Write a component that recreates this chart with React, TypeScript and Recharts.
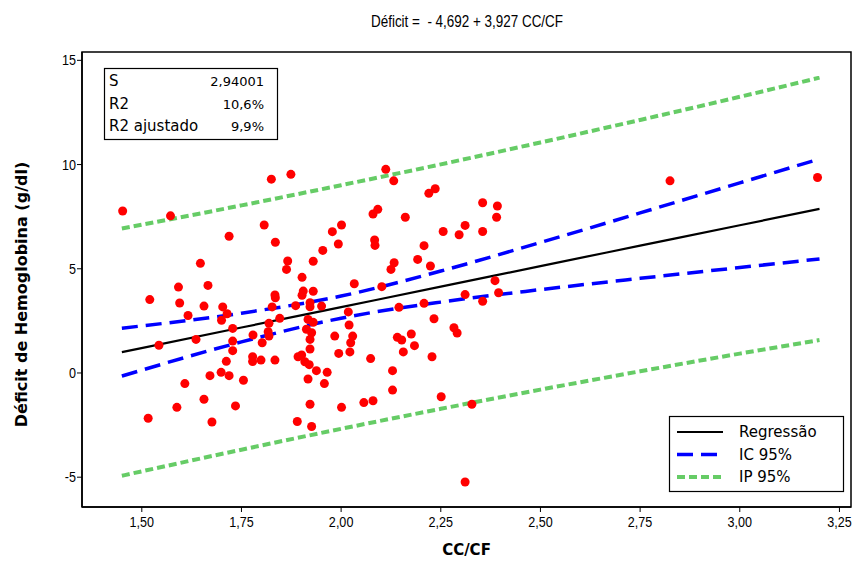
import { ComposedChart, Line, Scatter, XAxis, YAxis, ReferenceArea } from "recharts";

// ---- data ----
const TITLE = "Déficit =  - 4,692 + 3,927 CC/CF";
const X_LABEL = "CC/CF";
const Y_LABEL = "Déficit de Hemoglobina (g/dl)";

const X_TICKS = [1.5, 1.75, 2.0, 2.25, 2.5, 2.75, 3.0, 3.25];
const Y_TICKS = [-5, 0, 5, 10, 15];
const X_DOMAIN: [number, number] = [1.35, 3.279];
const Y_DOMAIN: [number, number] = [-6.43, 15.4];

const STAT_NAMES = ["S", "R2", "R2 ajustado"];
const STAT_VALUES = ["2,94001", "10,6%", "9,9%"];

const SERIES_NAMES = ["Regressão", "IC 95%", "IP 95%"];

// fitted line and bands
const CURVE_X = [1.45, 1.75, 2.0, 2.25, 2.5, 2.75, 3.0, 3.2];
const FIT = [1.0, 2.18, 3.16, 4.14, 5.13, 6.11, 7.09, 7.87];
const CI_LO = [-0.15, 1.49, 2.63, 3.4, 4.0, 4.54, 5.06, 5.47];
const CI_HI = [2.15, 2.87, 3.69, 4.89, 6.26, 7.68, 9.12, 10.27];
const PI_LO = [-4.93, -3.68, -2.68, -1.72, -0.8, 0.08, 0.93, 1.58];
const PI_HI = [6.93, 8.04, 9.01, 10.01, 11.06, 12.14, 13.25, 14.17];

// observations
const CC_CF = [
  1.452, 1.572, 1.719, 1.647, 1.592, 1.666, 1.52, 1.595, 1.656, 1.703, 1.714, 1.616, 1.7, 1.728,
  1.779, 1.636, 1.728, 1.543, 1.728, 1.778, 1.778, 1.799, 1.712, 1.699, 1.719, 1.671, 1.755,
  1.608, 1.656, 1.588, 1.735, 1.516, 1.676,
  1.825, 1.874, 1.807, 1.978, 2.001, 1.835, 1.993, 1.954, 1.866, 1.93, 1.863, 1.902, 2.033,
  1.905, 1.902, 1.93, 1.834, 1.835, 1.827, 1.886, 1.922, 1.922, 1.951, 1.846, 1.917, 2.018,
  1.93, 1.819, 2.02, 1.817, 1.819, 1.913, 1.926, 1.984, 2.029, 2.024, 1.802, 1.922, 1.922,
  1.834, 1.892, 1.901, 1.909, 1.92, 1.994, 2.022, 1.938, 1.965, 1.917, 1.958, 1.922, 2.001,
  1.89, 1.926,
  2.112, 2.132, 2.22, 2.236, 2.08, 2.092, 2.161, 2.355, 2.392, 2.39, 2.256, 2.296, 2.311, 2.355,
  2.084, 2.085, 2.208, 2.133, 2.125, 2.192, 2.224, 2.102, 2.386, 2.395, 2.311, 2.355, 2.145,
  2.208, 2.233, 2.283, 2.291, 2.141, 2.152, 2.176, 2.184, 2.156, 2.074, 2.228, 2.129, 2.129,
  2.251, 2.057, 2.08, 2.328, 2.311, 2.825, 3.195,
];
const DEFICIT = [
  7.77, 7.54, 6.56, 5.26, 4.12, 4.2, 3.52, 3.36, 3.21, 3.17, 2.84, 2.76, 2.53, 2.14,
  1.82, 1.61, 1.53, 1.33, 1.07, 0.78, 0.55, 0.62, 0.56, 0.03, -0.13, -0.13, -0.35,
  -0.51, -1.26, -1.65, -1.58, -2.17, -2.35,
  9.3, 9.53, 7.1, 6.78, 7.1, 6.27, 6.19, 5.88, 5.37, 5.36, 4.97, 4.59, 4.28,
  3.93, 3.73, 3.92, 3.74, 3.61, 3.17, 3.23, 3.37, 3.18, 3.21, 2.62, 2.57, 2.93,
  2.43, 2.38, 2.3, 1.98, 1.77, 2.1, 1.93, 1.77, 1.77, 1.45, 1.45, 1.61, 1.15,
  0.62, 0.78, 0.86, 0.54, 0.4, 0.94, 1.01, 0.11, 0.03, -0.29, -0.51, -1.5, -1.65,
  -2.33, -2.57,
  9.77, 9.22, 8.62, 8.84, 7.63, 7.85, 7.47, 8.17, 8.01, 7.47, 6.79, 6.63, 7.08, 6.79,
  6.38, 6.12, 6.11, 5.29, 4.97, 5.45, 5.13, 4.14, 4.43, 3.85, 3.76, 3.44, 3.15,
  3.34, 2.6, 2.17, 1.92, 1.71, 1.58, 1.87, 1.31, 1.01, 0.69, 0.78, 0.11, -0.82,
  -1.14, -1.42, -1.33, -1.5, -5.23, 9.22, 9.38,
];

// ---- styles ----
const W = 857;
const H = 563;
const SANS = "'DejaVu Sans', sans-serif";
const NARROW = "'Liberation Sans', Arial, sans-serif";
const FIT_STYLE = { stroke: "#000000", strokeWidth: 2.2, dash: undefined as string | undefined };
const CI_STYLE = { stroke: "#0000ff", strokeWidth: 3.5, dash: "16 8" };
const PI_STYLE = { stroke: "#66cc66", strokeWidth: 4, dash: "8 4" };
const LEGEND_STYLES = [FIT_STYLE, CI_STYLE, PI_STYLE];

const fmtX = (v: number) => v.toFixed(2).replace(".", ",");

function RedDot(props: any) {
  const { cx, cy } = props;
  if (cx == null || cy == null) return null;
  return <circle cx={cx} cy={cy} r={4.5} fill="#ff0000" />;
}

// condensed tick text, like the original's narrow font
function XTick(props: any) {
  const { x, y, payload } = props;
  return (
    <g transform={`translate(${x} ${y + 15}) scale(0.84 1)`}>
      <text x={0} y={0} textAnchor="middle" fontFamily={NARROW} fontSize={15} fill="#000">
        {fmtX(payload.value)}
      </text>
    </g>
  );
}

function YTick(props: any) {
  const { x, y, payload } = props;
  return (
    <g transform={`translate(${x} ${y + 5}) scale(0.84 1)`}>
      <text x={0} y={0} textAnchor="end" fontFamily={NARROW} fontSize={15} fill="#000">
        {String(payload.value)}
      </text>
    </g>
  );
}

function XLabel(props: any) {
  const vb = props.viewBox;
  return (
    <text x={vb.x + vb.width / 2} y={vb.y + 48} textAnchor="middle" fontFamily={SANS} fontWeight="bold" fontSize={15} fill="#000">
      {X_LABEL}
    </text>
  );
}

function YLabel(props: any) {
  const vb = props.viewBox;
  const x = vb.x + 27;
  const y = vb.y + vb.height / 2 + 15;
  return (
    <text x={x} y={y} transform={`rotate(-90 ${x} ${y})`} textAnchor="middle" fontFamily={SANS} fontWeight="bold" fontSize={16} fill="#000">
      {Y_LABEL}
    </text>
  );
}

export default function App() {
  const curveData = CURVE_X.map((x, i) => ({
    x,
    fit: FIT[i],
    ciLo: CI_LO[i],
    ciHi: CI_HI[i],
    piLo: PI_LO[i],
    piHi: PI_HI[i],
  }));
  const points = CC_CF.map((x, i) => ({ x, y: DEFICIT[i] }));

  return (
    <div style={{ position: "absolute", left: 0, top: 0, width: W, height: H, background: "#fff" }}>
      <ComposedChart width={W} height={H} data={curveData} margin={{ top: 52, right: 6, bottom: 0, left: 0 }}>
        <XAxis
          type="number"
          dataKey="x"
          domain={X_DOMAIN}
          ticks={X_TICKS}
          allowDataOverflow
          height={56}
          tickSize={5}
          tickMargin={0}
          axisLine={{ stroke: "#000", strokeWidth: 1.5 }}
          tickLine={{ stroke: "#000" }}
          tick={XTick}
          label={XLabel}
        />
        <YAxis
          type="number"
          domain={Y_DOMAIN}
          ticks={Y_TICKS}
          allowDataOverflow
          width={82}
          tickSize={5}
          tickMargin={1}
          axisLine={{ stroke: "#000", strokeWidth: 1.5 }}
          tickLine={{ stroke: "#000" }}
          tick={YTick}
          label={YLabel}
        />
        <ReferenceArea
          x1={X_DOMAIN[0]}
          x2={X_DOMAIN[1]}
          y1={Y_DOMAIN[0]}
          y2={Y_DOMAIN[1]}
          fill="none"
          fillOpacity={0}
          stroke="#000"
          strokeWidth={1.5}
          ifOverflow="visible"
        />
        <Line type="monotone" dataKey="piHi" stroke={PI_STYLE.stroke} strokeWidth={PI_STYLE.strokeWidth} strokeDasharray={PI_STYLE.dash} dot={false} activeDot={false} isAnimationActive={false} />
        <Line type="monotone" dataKey="piLo" stroke={PI_STYLE.stroke} strokeWidth={PI_STYLE.strokeWidth} strokeDasharray={PI_STYLE.dash} dot={false} activeDot={false} isAnimationActive={false} />
        <Line type="monotone" dataKey="ciHi" stroke={CI_STYLE.stroke} strokeWidth={CI_STYLE.strokeWidth} strokeDasharray={CI_STYLE.dash} dot={false} activeDot={false} isAnimationActive={false} />
        <Line type="monotone" dataKey="ciLo" stroke={CI_STYLE.stroke} strokeWidth={CI_STYLE.strokeWidth} strokeDasharray={CI_STYLE.dash} dot={false} activeDot={false} isAnimationActive={false} />
        <Line type="monotone" dataKey="fit" stroke={FIT_STYLE.stroke} strokeWidth={FIT_STYLE.strokeWidth} dot={false} activeDot={false} isAnimationActive={false} />
        <Scatter data={points} dataKey="y" fill="#ff0000" shape={RedDot} isAnimationActive={false} legendType="none" />
      </ComposedChart>

      {/* title, summary box and legend */}
      <svg width={W} height={H} style={{ position: "absolute", left: 0, top: 0, pointerEvents: "none" }}>
        <text x={467} y={27} textAnchor="middle" fontFamily={NARROW} fontSize={17} textLength={192} lengthAdjust="spacingAndGlyphs" style={{ whiteSpace: "pre" }} fill="#000">
          {TITLE}
        </text>

        <rect x={104.5} y={68.5} width={173} height={71} fill="#fff" stroke="#000" strokeWidth={1.2} />
        {STAT_NAMES.map((name, i) => (
          <g key={name}>
            <text x={109} y={86 + i * 22.5} fontFamily={SANS} fontSize={15} fill="#000">
              {name}
            </text>
            <text x={264} y={86 + i * 22.5} textAnchor="end" fontFamily={SANS} fontSize={13} fill="#000">
              {STAT_VALUES[i]}
            </text>
          </g>
        ))}

        <rect x={669.5} y={416.5} width={174} height={75} fill="#fff" stroke="#000" strokeWidth={1.2} />
        {SERIES_NAMES.map((name, i) => {
          const st = LEGEND_STYLES[i];
          const y = 432 + i * 22.5;
          return (
            <g key={name}>
              <line x1={677} x2={723} y1={y} y2={y} stroke={st.stroke} strokeWidth={st.strokeWidth} strokeDasharray={st.dash} />
              <text x={739} y={y + 5} fontFamily={SANS} fontSize={15} fill="#000">
                {name}
              </text>
            </g>
          );
        })}
      </svg>
    </div>
  );
}
